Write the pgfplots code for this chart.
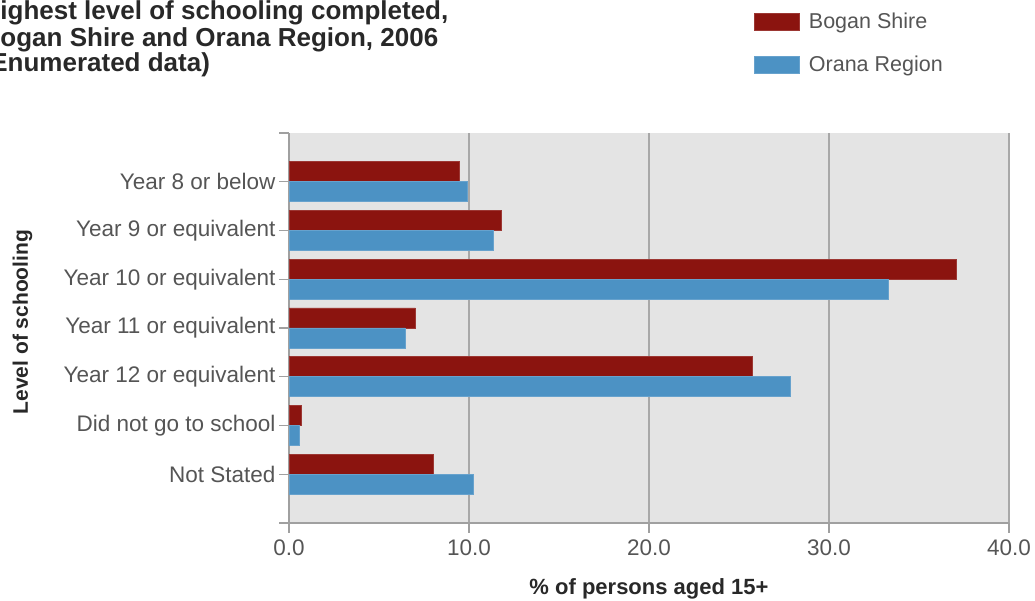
\documentclass[border=0pt]{standalone}
\usepackage{fontspec}
\setmainfont{Liberation Sans}
\usepackage{pgfplots}
\pgfplotsset{compat=1.18}
\definecolor{bogan}{RGB}{139,20,15}
\definecolor{orana}{RGB}{76,146,196}
\definecolor{bggray}{RGB}{228,228,228}
\definecolor{gridgray}{RGB}{168,168,168}
\definecolor{axgray}{RGB}{160,160,160}
\definecolor{ticktext}{RGB}{85,85,85}
\definecolor{titletext}{RGB}{40,40,40}
\begin{document}
\begin{tikzpicture}
\path[use as bounding box] (0,0) rectangle (1035pt,601pt);
\node[anchor=base west, inner sep=0pt, font=\fontsize{26}{27}\bfseries, text=titletext] at (-18.5pt,581pt) {Highest level of schooling completed,};
\node[anchor=base west, inner sep=0pt, font=\fontsize{26}{27}\bfseries, text=titletext] at (-18.5pt,554.5pt) {Bogan Shire and Orana Region, 2006};
\node[anchor=base west, inner sep=0pt, font=\fontsize{26}{27}\bfseries, text=titletext] at (-18.5pt,529.5pt) {(Enumerated data)};
\begin{axis}[
  at={(289pt,78pt)}, anchor=south west,
  scale only axis, width=720pt, height=390pt,
  xbar, bar width=20pt,
  xmin=0, xmax=40, ymin=-1, ymax=7,
  xtick={0,10,20,30,40},
  ytick={0,1,2,3,4,5,6},
  yticklabels={Not Stated, Did not go to school, Year 12 or equivalent, Year 11 or equivalent, Year 10 or equivalent, Year 9 or equivalent, Year 8 or below},
  extra y ticks={-1,7}, extra y tick labels={},
  /pgf/number format/assume math mode=true,
  x tick label style={/pgf/number format/fixed, /pgf/number format/fixed zerofill, /pgf/number format/precision=1, yshift=-3pt},
  tick label style={font=\fontsize{22.5}{24}\selectfont, text=ticktext},
  axis x line*=bottom, axis y line*=left,
  axis line style={axgray, line width=1.2pt},
  tick style={axgray, line width=1.2pt},
  major tick length=10pt, tick align=outside,
  axis background/.style={fill=bggray},
  xmajorgrids=true,
  major grid style={gridgray, line width=1.5pt},
  xlabel={\% of persons aged 15+},
  ylabel={Level of schooling},
  xlabel style={font=\fontsize{22}{24}\bfseries, text=titletext, yshift=-16pt},
  ylabel style={font=\fontsize{21}{24}\bfseries, text=titletext, at={(axis description cs:-0.37,0.515)}, anchor=center},
  legend style={at={(axis description cs:0.646,1.313)}, anchor=north west, draw=none, fill=none,
    font=\fontsize{21.5}{24}\selectfont, text=ticktext, legend cell align=left, row sep=22pt, inner sep=0pt,
    /tikz/every odd column/.append style={column sep=7pt}},
  legend image code/.code={\fill[#1] (0pt,-8.5pt) rectangle (45pt,8.5pt);},
]
\addplot[fill=bogan, draw=bogan!85!white, line width=0.6pt, bar shift=10pt] coordinates {
  (9.48,6) (11.80,5) (37.08,4) (7.02,3) (25.72,2) (0.69,1) (8.02,0)};
\addplot[fill=orana, draw=orana!85!white, line width=0.6pt, bar shift=-10pt] coordinates {
  (9.91,6) (11.36,5) (33.28,4) (6.47,3) (27.83,2) (0.56,1) (10.22,0)};
\legend{Bogan Shire, Orana Region}
\end{axis}
\end{tikzpicture}
\end{document}
